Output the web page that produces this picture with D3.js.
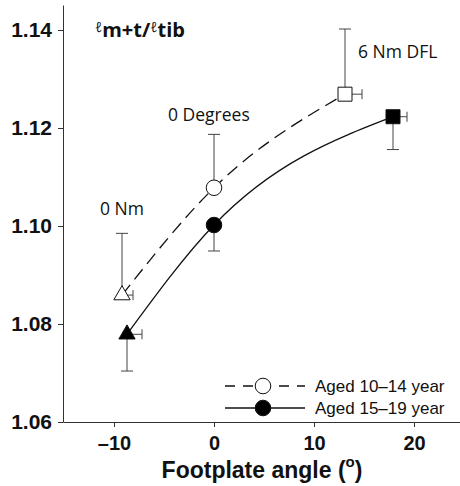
<!DOCTYPE html>
<html>
<head>
<meta charset="utf-8">
<script src="https://cdn.jsdelivr.net/npm/d3@7"></script>
<style>
  body { margin: 0; background: #fff; }
  svg { display: block; }
</style>
</head>
<body>
<svg width="460" height="486"></svg>
<script>
// values
const conditions = ['0 Nm', '0 Degrees', '6 Nm DFL'];
const angleYoung = [-9.2, 0, 13.1];
const ratioYoung = [1.0859, 1.1078, 1.1269];
const sdUpYoung = [0.0126, 0.0109, 0.0133];
const sdAngleYoung = [1.1, 0, 1.7];
const angleOld = [-8.7, 0, 17.9];
const ratioOld = [1.0779, 1.1002, 1.1223];
const sdDownOld = [0.0075, 0.0053, 0.0067];
const sdAngleOld = [1.5, 0, 1.4];
const xTicks = [-10, 0, 10, 20];
const yTicks = [1.06, 1.08, 1.10, 1.12, 1.14];
const groups = ['Aged 10–14 year', 'Aged 15–19 year'];

const svg = d3.select('svg');
const margin = { left: 63, top: 5, right: 0, bottom: 64 };
const width = 460 - margin.left - margin.right;
const height = 486 - margin.top - margin.bottom;

const x = d3.scaleLinear().domain([-15.1, 24.6]).range([0, width]);
const y = d3.scaleLinear().domain([1.06, 1.1451]).range([height, 0]);

const g = svg.append('g').attr('transform', `translate(${margin.left},${margin.top})`);

// axes
const xAxis = g.append('g')
  .attr('transform', `translate(0,${height})`)
  .call(d3.axisBottom(x).tickValues(xTicks).tickSize(5).tickSizeOuter(0)
    .tickFormat(d => (d < 0 ? '–' + Math.abs(d) : d)));
const yAxis = g.append('g')
  .call(d3.axisLeft(y).tickValues(yTicks).tickSize(5).tickSizeOuter(0).tickFormat(d3.format('.2f')));

[xAxis, yAxis].forEach(a => {
  a.select('.domain').attr('stroke', '#333');
  a.selectAll('.tick line').attr('stroke', '#333');
  a.selectAll('.tick text')
    .attr('font-family', 'Liberation Sans, Arial, sans-serif')
    .attr('font-weight', 'bold')
    .attr('fill', '#111');
});
xAxis.selectAll('.tick text').attr('font-size', 20).attr('y', 14).attr('dy', '0.71em');
yAxis.selectAll('.tick text').attr('font-size', 21).attr('x', -11);

// axis title
const xt = svg.append('text')
  .attr('x', 262).attr('y', 478)
  .attr('text-anchor', 'middle')
  .attr('font-family', 'Liberation Sans, Arial, sans-serif')
  .attr('font-weight', 'bold')
  .attr('font-size', 23)
  .attr('fill', '#111');
xt.append('tspan').text('Footplate angle (');
xt.append('tspan').attr('font-size', 15).attr('dy', -11).text('o');
xt.append('tspan').attr('dy', 11).text(')');

// y title
const yt = svg.append('text')
  .attr('x', 95).attr('y', 37)
  .attr('font-family', 'Open Sans, sans-serif')
  .attr('font-weight', 'bold')
  .attr('font-size', 20)
  .attr('fill', '#111');
yt.append('tspan').attr('font-weight', 'normal').attr('font-size', 14).attr('dy', -5).text('ℓ');
yt.append('tspan').attr('dy', 5).text('m+t/');
yt.append('tspan').attr('font-weight', 'normal').attr('font-size', 14).attr('dy', -5).text('ℓ');
yt.append('tspan').attr('dy', 5).text('tib');

const young = angleYoung.map((a, i) => ({ a, r: ratioYoung[i], sy: sdUpYoung[i], sx: sdAngleYoung[i] }));
const old = angleOld.map((a, i) => ({ a, r: ratioOld[i], sy: -sdDownOld[i], sx: sdAngleOld[i] }));

const line = d3.line().x(d => x(d.a)).y(d => y(d.r)).curve(d3.curveMonotoneX);

g.append('path').datum(young).attr('d', line)
  .attr('fill', 'none').attr('stroke', '#111').attr('stroke-width', 1.3)
  .attr('stroke-dasharray', '13,7');
g.append('path').datum(old).attr('d', line)
  .attr('fill', 'none').attr('stroke', '#111').attr('stroke-width', 1.3);

// error bars
function errorBars(data) {
  const eb = g.append('g').attr('stroke', '#444').attr('stroke-width', 1);
  data.forEach(d => {
    const cx = x(d.a), cy = y(d.r), ey = y(d.r + d.sy);
    eb.append('line').attr('x1', cx).attr('x2', cx).attr('y1', cy).attr('y2', ey);
    eb.append('line').attr('x1', cx - 6).attr('x2', cx + 6).attr('y1', ey).attr('y2', ey);
    if (d.sx > 0) {
      const ex = x(d.a + d.sx);
      eb.append('line').attr('x1', cx).attr('x2', ex).attr('y1', cy).attr('y2', cy);
      eb.append('line').attr('x1', ex).attr('x2', ex).attr('y1', cy - 5).attr('y2', cy + 5);
    }
  });
}
errorBars(young);
errorBars(old);

// markers: triangle, circle, square
const shapes = [d3.symbolTriangle, d3.symbolCircle, d3.symbolSquare];
const sizes = [115, 190, 196];
function markers(data, fill) {
  g.append('g').selectAll('path').data(data).enter().append('path')
    .attr('transform', d => `translate(${x(d.a)},${y(d.r)})`)
    .attr('d', (d, i) => d3.symbol().type(shapes[i]).size(sizes[i])())
    .attr('fill', fill).attr('stroke', '#111').attr('stroke-width', 1);
}
markers(young, '#fff');
markers(old, '#000');

// condition labels
const labelPos = [[-11.4, 1.1022], [-4.6, 1.1214], [14.4, 1.1343]];
g.append('g').selectAll('text').data(conditions).enter().append('text')
  .attr('x', (d, i) => x(labelPos[i][0]))
  .attr('y', (d, i) => y(labelPos[i][1]))
  .attr('font-family', 'Open Sans, sans-serif')
  .attr('font-size', 17.5)
  .attr('fill', '#111')
  .text(d => d);

// legend
const legend = svg.append('g').attr('transform', 'translate(225,386)');
groups.forEach((name, i) => {
  const row = legend.append('g').attr('transform', `translate(0,${i * 22})`);
  row.append('line').attr('x1', 0).attr('x2', 80).attr('y1', 0).attr('y2', 0)
    .attr('stroke', '#111').attr('stroke-width', 1.3)
    .attr('stroke-dasharray', i === 0 ? '10,8' : null);
  row.append('circle').attr('cx', 38).attr('cy', 0).attr('r', 7.8)
    .attr('fill', i === 0 ? '#fff' : '#000').attr('stroke', '#111');
  row.append('text').attr('x', 90).attr('y', 0).attr('dy', '0.35em')
    .attr('font-family', 'Liberation Sans, Arial, sans-serif')
    .attr('font-size', 17).attr('fill', '#111')
    .text(name);
});
</script>
</body>
</html>
